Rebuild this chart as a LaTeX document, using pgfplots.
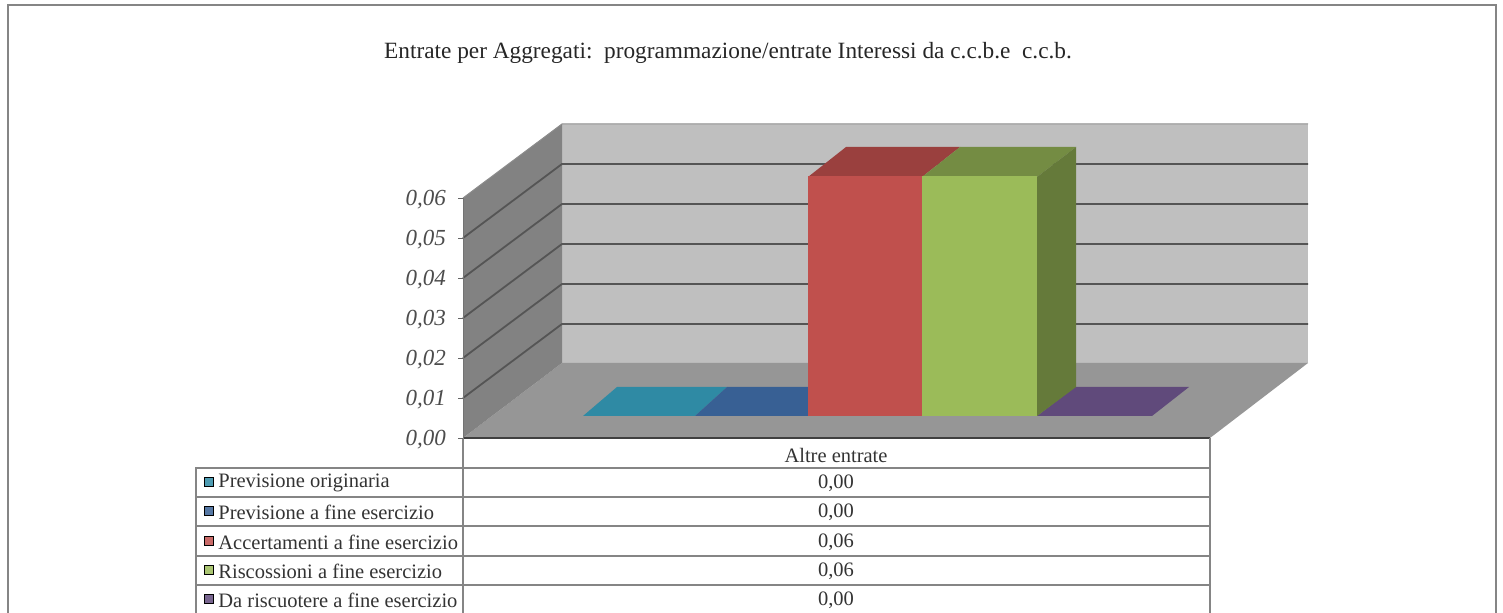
\documentclass[border=0pt]{standalone}
\usepackage{fontspec}
\setmainfont{Liberation Serif}
\usepackage{pgfplots}
\pgfplotsset{compat=1.18}
\definecolor{teal3}{HTML}{2F8AA4}
\definecolor{blue3}{HTML}{386094}
\definecolor{red3}{HTML}{C0504D}
\definecolor{green3}{HTML}{9BBB59}
\definecolor{purple3}{HTML}{604A7B}
\definecolor{gridc}{HTML}{555555}
\definecolor{tablec}{HTML}{858585}
\tikzset{txt/.style={inner sep=0pt,font=\fontsize{10.25}{12}\selectfont,text=black!80}}
\begin{document}
\begin{tikzpicture}
\useasboundingbox (0,0) rectangle (751.5pt,306.5pt);
% 1 px = 0.5 pt, this axis runs in the pixels of the page
\begin{axis}[at={(0pt,0pt)},anchor=south west,scale only axis,width=751.5pt,height=306.5pt,
   xmin=0,xmax=1503,ymin=0,ymax=613,y dir=reverse,hide axis]
% frame
\addplot[tablec,line width=0.9pt] coordinates {(8,613) (8,5) (1496,5) (1496,613)};
% walls and floor
\addplot[fill=black!25,draw=none] coordinates {(562,124) (1308,124) (1308,363) (562,363)} --cycle;
\addplot[fill=black!41,draw=none] coordinates {(463,438) (562,363) (1308,363) (1210,438)} --cycle;
\addplot[fill=black!49,draw=none] coordinates {(463,438) (562,363) (562,124) (463,198)} --cycle;
% gridlines
\addplot[gridc,line width=0.9pt] coordinates {(463,398) (562,324) (1308,324)};
\addplot[gridc,line width=0.9pt] coordinates {(463,358) (562,284) (1308,284)};
\addplot[gridc,line width=0.9pt] coordinates {(463,318) (562,244) (1308,244)};
\addplot[gridc,line width=0.9pt] coordinates {(463,278) (562,204) (1308,204)};
\addplot[gridc,line width=0.9pt] coordinates {(463,238) (562,164) (1308,164)};
\addplot[black!45,line width=0.5pt] coordinates {(463,198) (562,124) (1308,124)};
% zero height series lie flat on the floor
\addplot[fill=teal3,draw=none] coordinates {(583,416) (695,416) (727,387) (617,387)} --cycle;
\addplot[fill=blue3,draw=none] coordinates {(695,416) (808,416) (846,387) (727,387)} --cycle;
\addplot[fill=purple3,draw=none] coordinates {(1037,416) (1152,416) (1189,387) (1075,387)} --cycle;
% top and side of the tall bars
\addplot[fill=red3!80!black,draw=none] coordinates {(808,177) (922,177) (960,147) (846,147)} --cycle;
\addplot[fill=green3!75!black,draw=none] coordinates {(922,177) (1037,177) (1076,147) (960,147)} --cycle;
\addplot[fill=green3!65!black,draw=none] coordinates {(1037,177) (1076,147) (1076,387) (1037,416)} --cycle;
% table
\addplot[black!75,line width=0.7pt] coordinates {(463,438) (1210,438)};
\addplot[tablec,line width=0.6pt] coordinates {(463,438) (463,613)};
\addplot[tablec,line width=0.6pt] coordinates {(1210,438) (1210,613)};
\addplot[tablec,line width=0.6pt] coordinates {(196,613) (196,468) (1210,468)};
\addplot[tablec,line width=0.6pt] coordinates {(196,497) (1210,497)};
\addplot[tablec,line width=0.6pt] coordinates {(196,526) (1210,526)};
\addplot[tablec,line width=0.6pt] coordinates {(196,556) (1210,556)};
\addplot[tablec,line width=0.6pt] coordinates {(196,585) (1210,585)};
% legend keys
\addplot[only marks,mark=square*,mark size=2.4pt,mark options={draw=none,fill=teal3!85}] coordinates {(209,482)};
\addplot[only marks,mark=square*,mark size=2.4pt,mark options={draw=none,fill=blue3!85}] coordinates {(209,511)};
\addplot[only marks,mark=square*,mark size=2.4pt,mark options={draw=none,fill=red3!85}] coordinates {(209,541)};
\addplot[only marks,mark=square*,mark size=2.4pt,mark options={draw=none,fill=green3!85}] coordinates {(209,570)};
\addplot[only marks,mark=square*,mark size=2.4pt,mark options={draw=none,fill=purple3!85}] coordinates {(209,599)};
% texts
\node[txt,anchor=west] at (axis cs:218,483) {Previsione originaria};
\node[txt,anchor=west] at (axis cs:218,512) {Previsione a fine esercizio};
\node[txt,anchor=west] at (axis cs:218,542) {Accertamenti a fine esercizio};
\node[txt,anchor=west] at (axis cs:218,571) {Riscossioni a fine esercizio};
\node[txt,anchor=west] at (axis cs:218,600) {Da riscuotere a fine esercizio};
\node[txt] at (axis cs:836,455) {Altre entrate};
\node[txt] at (axis cs:836,483) {0,00};
\node[txt] at (axis cs:836,512) {0,00};
\node[txt] at (axis cs:836,542) {0,06};
\node[txt] at (axis cs:836,571) {0,06};
\node[txt] at (axis cs:836,600) {0,00};
\node[inner sep=0pt,font=\fontsize{11.65}{13}\selectfont,text=black!85] at (axis cs:728,53) {Entrate per Aggregati:\ \ programmazione/entrate Interessi da c.c.b.e\ \ c.c.b.};
\end{axis}
% value axis: its box is the front of the y wall, x still in pixels
\begin{axis}[at={(231.5pt,87.5pt)},anchor=south west,scale only axis,width=373.5pt,height=120pt,
   xmin=463,xmax=1210,ymin=0,ymax=0.06,clip=false,
   axis x line=none,axis y line*=left,axis line style={draw=black!55,-},
   ytick={0,0.01,0.02,0.03,0.04,0.05,0.06},
   tick align=outside,major tick length=2.5pt,tick style={black!60},
   scaled y ticks=false,
   yticklabel style={font=\fontsize{11.5}{13}\itshape\selectfont,text=black!70,xshift=-2.5pt,yshift=-1pt,
      /pgf/number format/.cd,fixed,fixed zerofill,precision=2,use comma,assume math mode=true}]
\addplot[ybar,bar shift=0pt,bar width=57pt,fill=red3,draw=none,yshift=11pt] coordinates {(865,0.06)};
\addplot[ybar,bar shift=0pt,bar width=57.5pt,fill=green3,draw=none,yshift=11pt] coordinates {(979.5,0.06)};
\end{axis}
\end{tikzpicture}
\end{document}
